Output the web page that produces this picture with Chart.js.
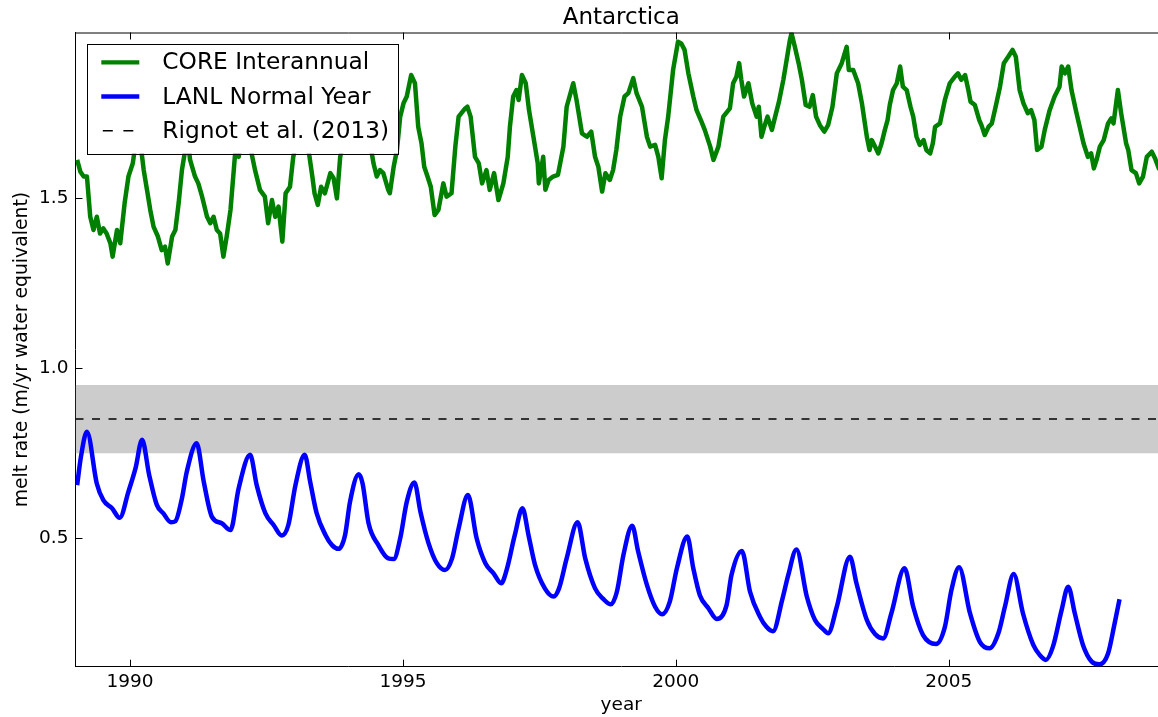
<!DOCTYPE html>
<html>
<head>
<meta charset="utf-8">
<script src="https://cdn.jsdelivr.net/npm/chart.js@4.4.1/dist/chart.umd.min.js"></script>
<style>
html,body{margin:0;padding:0;background:#fff;overflow:hidden;width:1158px;height:717px;}
#wrap{position:absolute;left:0;top:0;width:1167px;height:717px;}
</style>
</head>
<body>
<div id="wrap"><canvas id="c" width="1167" height="717"></canvas></div>
<script>
// ---------- data ----------
const titleText = "Antarctica";
const xLabel = "year";
const yLabel = "melt rate (m/yr water equivalent)";
const xTickValues = [1990, 1995, 2000, 2005];
const yTickValues = [0.5, 1.0, 1.5];
const yTickLabels = ["0.5", "1.0", "1.5"];
const seriesNames = ["CORE Interannual", "LANL Normal Year", "Rignot et al. (2013)"];

const coreYears = [1989.03,1989.09,1989.15,1989.21,1989.27,1989.33,1989.39,1989.45,1989.51,1989.57,1989.64,1989.68,1989.76,1989.82,1989.90,1989.97,
1990.05,1990.10,1990.15,1990.19,1990.25,1990.31,1990.37,1990.43,1990.51,1990.58,1990.64,1990.69,1990.77,1990.83,1990.89,1990.95,
1991.00,1991.05,1991.10,1991.19,1991.25,1991.32,1991.41,1991.47,1991.53,1991.59,1991.65,1991.71,1991.77,1991.84,1991.90,1991.93,1991.99,
1992.02,1992.10,1992.20,1992.29,1992.38,1992.47,1992.53,1992.60,1992.66,1992.72,1992.79,1992.85,1992.93,1992.99,
1993.05,1993.15,1993.27,1993.34,1993.38,1993.44,1993.50,1993.57,1993.67,1993.73,1993.79,1993.85,1993.91,
1994.05,1994.15,1994.30,1994.43,1994.46,1994.52,1994.58,1994.64,1994.73,1994.76,1994.83,1994.89,1994.95,
1995.01,1995.07,1995.15,1995.22,1995.28,1995.34,1995.39,1995.45,1995.51,1995.58,1995.65,1995.74,1995.80,1995.89,1995.96,
1996.02,1996.14,1996.18,1996.24,1996.32,1996.39,1996.45,1996.53,1996.59,1996.67,1996.75,1996.84,1996.92,1996.96,
1997.02,1997.08,1997.12,1997.18,1997.25,1997.31,1997.39,1997.47,1997.49,1997.57,1997.61,1997.67,1997.75,1997.84,1997.94,
1998.00,1998.06,1998.12,1998.18,1998.28,1998.37,1998.45,1998.52,1998.58,1998.65,1998.71,1998.79,1998.85,1998.91,1998.98,
1999.06,1999.13,1999.22,1999.28,1999.38,1999.47,1999.53,1999.62,1999.68,1999.74,1999.80,1999.86,1999.95,
2000.04,2000.10,2000.16,2000.23,2000.32,2000.38,2000.47,2000.53,2000.63,2000.69,2000.78,2000.87,2000.99,
2001.05,2001.11,2001.16,2001.20,2001.25,2001.33,2001.40,2001.48,2001.52,2001.57,2001.62,2001.68,2001.76,2001.82,2001.89,2001.97,
2002.03,2002.09,2002.12,2002.18,2002.25,2002.31,2002.38,2002.45,2002.51,2002.57,2002.64,2002.72,2002.79,2002.87,2002.95,
2003.04,2003.13,2003.17,2003.25,2003.34,2003.41,2003.50,2003.55,2003.59,2003.65,2003.71,2003.77,2003.83,2003.88,2003.92,2003.98,
2004.05,2004.11,2004.16,2004.23,2004.30,2004.35,2004.41,2004.47,2004.54,2004.59,2004.66,2004.71,2004.75,2004.84,2004.93,
2005.02,2005.11,2005.17,2005.23,2005.30,2005.36,2005.40,2005.48,2005.56,2005.60,2005.66,2005.73,2005.79,2005.86,2005.94,
2006.01,2006.09,2006.17,2006.23,2006.30,2006.37,2006.45,2006.51,2006.57,2006.62,2006.70,2006.76,2006.85,2006.94,
2007.03,2007.07,2007.13,2007.19,2007.25,2007.33,2007.40,2007.47,2007.55,2007.61,2007.66,2007.71,2007.77,2007.84,2007.92,2007.98,
2008.02,2008.10,2008.16,2008.25,2008.29,2008.35,2008.43,2008.49,2008.56,2008.63,2008.72,2008.78,2008.85,2008.93,2008.99];
const coreVals = [1.611,1.576,1.562,1.562,1.444,1.405,1.444,1.395,1.410,1.395,1.366,1.327,1.405,1.366,1.484,1.562,
1.601,1.660,1.720,1.660,1.581,1.523,1.464,1.415,1.386,1.346,1.356,1.307,1.386,1.405,1.484,1.581,
1.630,1.680,1.611,1.562,1.542,1.503,1.444,1.425,1.444,1.405,1.395,1.327,1.386,1.464,1.581,1.640,1.620,
1.650,1.720,1.650,1.581,1.523,1.503,1.425,1.493,1.444,1.474,1.371,1.513,1.532,1.620,
1.660,1.740,1.640,1.562,1.513,1.479,1.532,1.513,1.572,1.557,1.498,1.620,1.660,
1.760,1.780,1.690,1.630,1.601,1.562,1.581,1.572,1.523,1.513,1.591,1.640,1.738,
1.777,1.797,1.860,1.836,1.708,1.660,1.591,1.562,1.532,1.449,1.464,1.542,1.503,1.513,1.650,
1.738,1.762,1.767,1.738,1.620,1.601,1.542,1.581,1.523,1.572,1.493,1.542,1.620,1.708,
1.797,1.816,1.787,1.860,1.836,1.757,1.679,1.601,1.542,1.620,1.523,1.552,1.562,1.567,1.650,
1.767,1.801,1.836,1.787,1.689,1.679,1.694,1.620,1.591,1.518,1.572,1.552,1.581,1.640,1.738,
1.797,1.807,1.851,1.807,1.767,1.679,1.650,1.655,1.620,1.557,1.669,1.738,1.875,
1.958,1.953,1.934,1.865,1.797,1.757,1.723,1.699,1.650,1.611,1.650,1.738,1.762,
1.836,1.855,1.895,1.846,1.797,1.836,1.777,1.738,1.767,1.679,1.708,1.738,1.699,1.738,1.782,1.846,
1.904,1.963,1.983,1.944,1.895,1.846,1.772,1.767,1.801,1.738,1.713,1.694,1.713,1.767,1.865,
1.895,1.943,1.875,1.875,1.836,1.777,1.679,1.640,1.669,1.650,1.630,1.660,1.699,1.728,1.772,1.816,
1.836,1.885,1.826,1.816,1.767,1.738,1.679,1.655,1.669,1.640,1.630,1.660,1.708,1.718,1.787,
1.836,1.855,1.865,1.846,1.860,1.816,1.782,1.772,1.728,1.713,1.684,1.708,1.718,1.767,1.826,
1.895,1.914,1.934,1.914,1.816,1.777,1.748,1.757,1.728,1.640,1.650,1.699,1.757,1.797,
1.826,1.885,1.865,1.885,1.816,1.757,1.708,1.660,1.620,1.630,1.586,1.611,1.650,1.669,1.718,1.733,
1.718,1.816,1.748,1.660,1.640,1.581,1.572,1.542,1.562,1.620,1.635,1.616,1.586,1.590,1.580];

const lanlYears = [1989.03,1989.10,1989.21,1989.39,1989.51,1989.67,1989.81,1989.97,
1990.10,1990.22,1990.35,1990.49,1990.61,1990.75,1990.83,1990.95,
1991.04,1991.22,1991.35,1991.50,1991.68,1991.84,1991.99,
1992.20,1992.32,1992.48,1992.63,1992.78,1992.90,
1993.03,1993.20,1993.30,1993.42,1993.58,1993.70,1993.82,1993.94,
1994.03,1994.19,1994.26,1994.37,1994.55,1994.73,1994.83,1994.95,
1995.07,1995.21,1995.32,1995.47,1995.62,1995.77,1995.90,
1996.02,1996.19,1996.35,1996.51,1996.66,1996.80,1996.90,
1997.05,1997.19,1997.30,1997.42,1997.60,1997.76,1997.86,
1998.00,1998.20,1998.34,1998.52,1998.67,1998.81,1998.92,
1999.04,1999.20,1999.31,1999.47,1999.62,1999.75,1999.89,
2000.02,2000.21,2000.32,2000.44,2000.60,2000.75,2000.93,
2001.02,2001.21,2001.36,2001.54,2001.66,2001.78,2001.95,
2002.06,2002.21,2002.40,2002.55,2002.70,2002.79,2002.95,
2003.19,2003.31,2003.50,2003.65,2003.80,2003.95,
2004.19,2004.35,2004.53,2004.77,2004.93,
2005.05,2005.19,2005.39,2005.57,2005.75,2005.91,
2006.03,2006.19,2006.36,2006.55,2006.67,2006.78,2006.91,
2007.07,2007.19,2007.31,2007.46,2007.62,2007.76,2007.92,
2008.04,2008.13];
const lanlVals = [0.656,0.740,0.813,0.661,0.612,0.588,0.560,0.637,
0.706,0.789,0.686,0.598,0.573,0.547,0.550,0.617,
0.696,0.779,0.666,0.563,0.544,0.524,0.647,
0.745,0.656,0.573,0.539,0.508,0.539,
0.656,0.745,0.666,0.573,0.510,0.480,0.469,0.510,
0.607,0.688,0.661,0.544,0.480,0.441,0.439,0.500,
0.607,0.664,0.578,0.485,0.427,0.407,0.441,
0.529,0.627,0.500,0.427,0.397,0.368,0.407,
0.510,0.588,0.510,0.422,0.353,0.329,0.353,
0.441,0.547,0.441,0.353,0.322,0.306,0.343,
0.451,0.537,0.461,0.363,0.299,0.277,0.314,
0.412,0.505,0.412,0.333,0.294,0.263,0.304,
0.392,0.463,0.343,0.270,0.240,0.227,0.320,
0.392,0.467,0.329,0.260,0.233,0.221,0.299,
0.446,0.368,0.260,0.219,0.206,0.280,
0.412,0.299,0.216,0.190,0.240,
0.348,0.415,0.280,0.196,0.177,0.221,
0.299,0.395,0.280,0.187,0.157,0.143,0.182,
0.290,0.358,0.280,0.187,0.138,0.130,0.162,
0.250,0.321];

const rignotYears = [1989.0, 2009.0];
const rignotMean = 0.85;
const rignotLow = 0.75;
const rignotHigh = 0.95;

const xMin = 1989.0, xMax = 2009.0;
const yMin = 0.123, yMax = 1.985;

// ---------- build ----------
const FONT = "'DejaVu Sans', 'Liberation Sans', sans-serif";
const pts = (xs, ys) => xs.map((x, i) => ({x: x, y: ys[i]}));
const flat = (xs, v) => xs.map(x => ({x: x, y: v}));

const frameTicks = {
  id: 'frameTicks',
  afterDatasetsDraw(chart) {
    const {ctx, chartArea: a, scales: {x, y}} = chart;
    ctx.save();
    ctx.strokeStyle = '#000';
    ctx.lineWidth = 1;
    ctx.beginPath();
    ctx.moveTo(a.left, a.top + 0.5);
    ctx.lineTo(a.right, a.top + 0.5);
    const L = 7;
    x.ticks.forEach(t => {
      const px = Math.round(x.getPixelForValue(t.value)) + 0.5;
      ctx.moveTo(px, a.bottom); ctx.lineTo(px, a.bottom - L);
      ctx.moveTo(px, a.top); ctx.lineTo(px, a.top + L);
    });
    y.ticks.forEach(t => {
      const py = Math.round(y.getPixelForValue(t.value)) + 0.5;
      ctx.moveTo(a.left, py); ctx.lineTo(a.left + L, py);
    });
    ctx.stroke();
    ctx.restore();
  }
};

const boxLegend = {
  id: 'boxLegend',
  afterDraw(chart) {
    const {ctx, chartArea: a} = chart;
    const bx = a.left + 11.8, by = a.top + 11.5, bw = 311, bh = 109.7;
    ctx.save();
    ctx.fillStyle = '#fff';
    ctx.fillRect(bx, by, bw, bh);
    ctx.strokeStyle = '#000';
    ctx.lineWidth = 1;
    ctx.strokeRect(Math.round(bx) + 0.5, Math.round(by) + 0.5, Math.round(bw), Math.round(bh));
    const items = chart.data.datasets.filter(d => d.inLegend);
    items.forEach((d, i) => {
      const ly = by + 18.3 + i * 34.2;
      ctx.beginPath();
      ctx.strokeStyle = d.borderColor;
      if (d.borderDash && d.borderDash.length) {
        ctx.lineWidth = 1.5;
        ctx.setLineDash([10, 10.6]);
        ctx.moveTo(bx + 15.5, ly);
        ctx.lineTo(bx + 46, ly);
      } else {
        ctx.lineWidth = 4.3;
        ctx.setLineDash([]);
        ctx.moveTo(bx + 14, ly);
        ctx.lineTo(bx + 52, ly);
      }
      ctx.stroke();
      ctx.setLineDash([]);
      ctx.fillStyle = '#000';
      ctx.font = "23.3px " + FONT;
      ctx.textBaseline = 'middle';
      ctx.textAlign = 'left';
      ctx.fillText(d.label, bx + 75, ly + 1);
    });
    ctx.restore();
  }
};

new Chart(document.getElementById('c'), {
  type: 'line',
  data: {
    datasets: [
      {label: seriesNames[0], inLegend: true, data: pts(coreYears, coreVals), borderColor: '#008000',
       borderWidth: 4.5, pointRadius: 0, fill: false, tension: 0, order: 1, borderJoinStyle: 'round'},
      {label: seriesNames[1], inLegend: true, data: pts(lanlYears, lanlVals), borderColor: '#0000ff',
       borderWidth: 4.5, pointRadius: 0, fill: false, cubicInterpolationMode: 'monotone', order: 2, borderJoinStyle: 'round'},
      {label: seriesNames[2], inLegend: true, data: flat(rignotYears, rignotMean), borderColor: '#000000',
       borderWidth: 1.5, borderDash: [8, 8.5], pointRadius: 0, fill: false, order: 3},
      {label: 'Rignot range high', inLegend: false, data: flat(rignotYears, rignotHigh), borderWidth: 0,
       borderColor: 'rgba(0,0,0,0)', backgroundColor: '#cccccc', pointRadius: 0, fill: '+1', order: 5},
      {label: 'Rignot range low', inLegend: false, data: flat(rignotYears, rignotLow), borderWidth: 0,
       borderColor: 'rgba(0,0,0,0)', pointRadius: 0, fill: false, order: 6}
    ]
  },
  options: {
    responsive: false,
    animation: false,
    devicePixelRatio: 1,
    layout: {padding: {left: 0, right: 0, top: 0, bottom: 0}},
    plugins: {
      legend: {display: false},
      tooltip: {enabled: false},
      title: {display: true, text: titleText, color: '#000', fullSize: false,
              font: {family: FONT, size: 23, weight: 'normal', lineHeight: 1.2},
              padding: {top: 4.5, bottom: 0.4}}
    },
    scales: {
      x: {
        type: 'linear', min: xMin, max: xMax,
        afterFit(s) { s.height = 50.3; },
        afterBuildTicks(s) { s.ticks = xTickValues.map(v => ({value: v})); },
        grid: {display: false, drawTicks: false},
        border: {display: true, color: '#000', width: 1},
        ticks: {color: '#000', font: {family: FONT, size: 18.5}, padding: 4, maxRotation: 0, autoSkip: false,
                callback: v => String(v)},
        title: {display: true, text: xLabel, color: '#000', font: {family: FONT, size: 18.5, lineHeight: 1.2},
                padding: {top: 0, bottom: 1}}
      },
      y: {
        type: 'linear', min: yMin, max: yMax,
        afterFit(s) { s.width = 75.5; },
        afterBuildTicks(s) { s.ticks = yTickValues.map(v => ({value: v})); },
        grid: {display: false, drawTicks: false},
        border: {display: true, color: '#000', width: 1},
        ticks: {color: '#000', font: {family: FONT, size: 18.5}, padding: 7,
                callback: (v) => { const i = yTickValues.indexOf(v); return i >= 0 ? yTickLabels[i] : ''; }},
        title: {display: true, text: yLabel, color: '#000', font: {family: FONT, size: 18.8, lineHeight: 1.2},
                padding: {top: 11, bottom: 0}}
      }
    }
  },
  plugins: [frameTicks, boxLegend]
});
</script>
</body>
</html>
